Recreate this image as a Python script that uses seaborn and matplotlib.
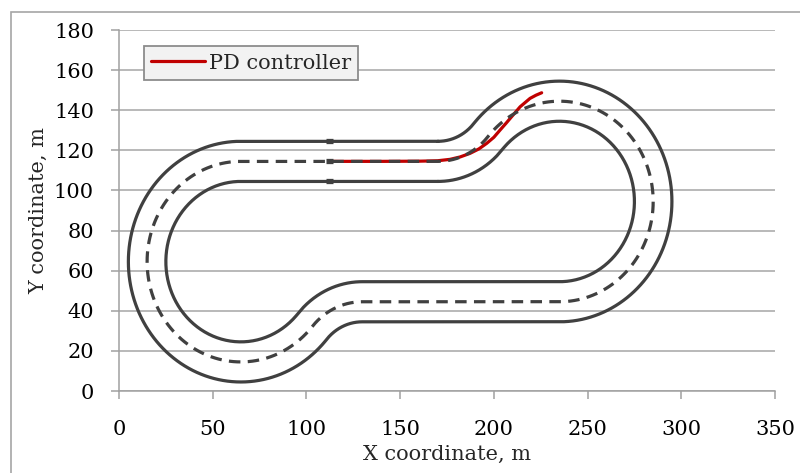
import numpy as np
import pandas as pd
import matplotlib
matplotlib.use("Agg")
import matplotlib.pyplot as plt
import seaborn as sns
from matplotlib.patches import Rectangle

# ---- data ----
# Track centre-line: sequence of segments (straight: start/end; arc: centre, radius, start/end angle in deg)
seg_kind    = ["line", "arc", "arc", "line", "arc", "arc"]
seg_cx      = [None, 65.0, 129.8, None, 235.0, 170.2]
seg_cy      = [None, 64.5, 9.5, None, 94.5, 149.5]
seg_r       = [None, 50.0, 35.0, None, 50.0, 35.0]
seg_a0      = [None, 90.0, 139.7, None, -90.0, -40.3]
seg_a1      = [None, 319.7, 90.0, None, 139.7, -90.0]
seg_p0      = [(170.2, 114.5), None, None, (129.8, 44.5), None, None]
seg_p1      = [(65.0, 114.5), None, None, (235.0, 44.5), None, None]
half_width  = 10.0
track_start_x = 113.0

# PD controller path
pd_x = [113.0, 140.0, 160.6, 170.0, 176.6, 182.0, 187.3, 192.0, 196.2, 200.0, 203.3, 206.5, 209.5, 214.0, 219.3, 222.5, 225.5]
pd_y = [114.5, 114.5, 114.6, 114.8, 115.5, 116.7, 118.5, 120.7, 123.5, 126.5, 130.1, 133.5, 136.8, 141.7, 145.9, 147.5, 148.7]

x_ticks = [0, 50, 100, 150, 200, 250, 300, 350]
y_ticks = [0, 20, 40, 60, 80, 100, 120, 140, 160, 180]


def segment_points(i, d):
    """points of segment i offset by d to the right of travel"""
    if seg_kind[i] == "line":
        (x0, y0), (x1, y1) = seg_p0[i], seg_p1[i]
        L = np.hypot(x1 - x0, y1 - y0)
        tx, ty = (x1 - x0) / L, (y1 - y0) / L
        nx, ny = ty, -tx
        t = np.linspace(0, 1, 60)
        return x0 + (x1 - x0) * t + d * nx, y0 + (y1 - y0) * t + d * ny
    a0, a1 = np.radians(seg_a0[i]), np.radians(seg_a1[i])
    ccw = a1 > a0
    r = seg_r[i] + d if ccw else seg_r[i] - d
    a = np.linspace(a0, a1, 200)
    return seg_cx[i] + r * np.cos(a), seg_cy[i] + r * np.sin(a)


def boundary(d):
    xs, ys = [], []
    for i in range(len(seg_kind)):
        x, y = segment_points(i, d)
        xs.append(x)
        ys.append(y)
    return np.concatenate(xs), np.concatenate(ys)


sns.set_theme(style="white")
plt.rcParams["font.family"] = ["DejaVu Serif"]

FS = 15
fig = plt.figure(figsize=(8.0, 4.73), dpi=100)
ax = fig.add_axes([119 / 800, 1 - 391 / 473, (775 - 119) / 800, (391 - 30) / 473])

track_col = "#404040"
lw = 2.3

# red path (under the track)
pd_df = pd.DataFrame({"x": pd_x, "y": pd_y})
sns.lineplot(data=pd_df, x="x", y="y", sort=False, estimator=None, color="#c00000",
             lw=lw, ax=ax, zorder=3, label="PD controller", legend=False)

for d, ls in [(-half_width, "-"), (0.0, "--"), (half_width, "-")]:
    bx, by = boundary(d)
    df = pd.DataFrame({"x": bx, "y": by})
    sns.lineplot(data=df, x="x", y="y", sort=False, estimator=None, color=track_col,
                 lw=lw, ax=ax, zorder=4, legend=False)
    ln = ax.lines[-1]
    if ls == "--":
        ln.set_dashes((3.6, 2.3))
    # small overlap mark at track start
    yy = by[np.argmin(np.abs(bx[:60] - track_start_x))]
    ax.plot([track_start_x - 2.3, track_start_x + 1.0], [yy, yy], color=track_col, lw=3.8,
            solid_capstyle="butt", zorder=5)

ax.set_xlim(0, 350)
ax.set_ylim(0, 180)
ax.set_xticks(x_ticks)
ax.set_yticks(y_ticks)
ax.yaxis.grid(True, color="#a6a6a6", lw=1.1)
ax.xaxis.grid(False)
ax.set_axisbelow(True)
for s in ["top", "right"]:
    ax.spines[s].set_visible(False)
for s in ["left", "bottom"]:
    ax.spines[s].set_color("#a0a0a0")
    ax.spines[s].set_linewidth(1.1)
ax.tick_params(axis="both", which="major", direction="out", length=6, width=1.1, color="#a0a0a0",
               labelsize=FS, labelcolor="black", bottom=True, left=True)
ax.tick_params(axis="y", pad=12)
ax.tick_params(axis="x", pad=15)
ax.set_xlabel("X coordinate, m", fontsize=FS, labelpad=4)
ax.set_ylabel("Y coordinate, m", fontsize=FS, labelpad=4)

leg = ax.legend(loc="upper left", bbox_to_anchor=((144 - 119) / 656, (391 - 46.5) / 361),
                frameon=True, fontsize=FS, fancybox=False, handlelength=2.6, handletextpad=0.15,
                borderpad=0.35, borderaxespad=0)
leg.get_frame().set_facecolor("#f2f2f2")
leg.get_frame().set_edgecolor("#8c8c8c")
leg.get_frame().set_linewidth(1.3)
leg.get_frame().set_alpha(1)

# outer chart border
fig.patches.append(Rectangle((11 / 800, -0.05), 1.1, 1 - 12 / 473 + 0.05, transform=fig.transFigure,
                             fill=False, edgecolor="#a6a6a6", lw=1.2))

fig.savefig("out.png", dpi=100)
